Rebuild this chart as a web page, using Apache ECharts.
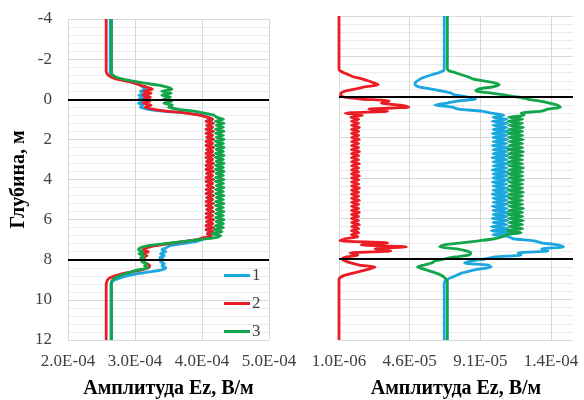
<!DOCTYPE html>
<html><head><meta charset="utf-8">
<script src="https://cdn.jsdelivr.net/npm/echarts@6/dist/echarts.min.js"></script>
<style>html,body{margin:0;padding:0;background:#fff}#c{width:584px;height:400px}</style>
</head><body><div id="c"></div>
<script>
// Depth samples, m (shared by all curves)
const depth = [-4,
 -1.4,-1.3,-1.2,-1.1,-1.0,-0.9,-0.8,-0.7,-0.6,-0.5,-0.4,-0.3,-0.2,-0.1,0,0.1,0.2,0.3,0.4,0.5,0.6,0.7,0.8,0.9,
 1.0,1.1,1.2,1.3,1.4,1.5,1.6,1.7,1.8,1.9,2.0,2.1,2.2,2.3,2.4,2.5,2.6,2.7,2.8,2.9,
 3.0,3.1,3.2,3.3,3.4,3.5,3.6,3.7,3.8,3.9,4.0,4.1,4.2,4.3,4.4,4.5,4.6,4.7,4.8,4.9,
 5.0,5.1,5.2,5.3,5.4,5.5,5.6,5.7,5.8,5.9,6.0,6.1,6.2,6.3,6.4,6.5,6.6,6.7,6.8,
 6.9,7.0,7.1,7.2,7.3,7.4,7.5,7.6,7.7,7.8,7.9,8.0,8.1,8.2,8.3,8.4,8.5,8.6,8.7,8.8,8.9,9.0,9.1,9.2,
 12];

// Left chart amplitudes, x1e-4 V/m
const leftAmp1 = [2.63,
 2.63,2.63,2.65,2.70,2.78,2.90,3.00,3.08,3.12,3.16,3.08,3.15,3.06,3.14,3.06,3.13,3.05,3.12,3.08,3.20,3.45,3.80,4.00,4.10,
 4.16,4.06,4.17,4.07,4.16,4.06,4.17,4.06,4.16,4.07,
 4.17,4.06,4.16,4.06,4.17,4.07,4.16,4.06,4.17,4.06,
 4.16,4.07,4.17,4.06,4.16,4.06,4.17,4.07,4.16,4.06,
 4.17,4.06,4.16,4.07,4.17,4.06,4.16,4.06,4.17,4.07,
 4.16,4.06,4.17,4.06,4.16,4.07,4.17,4.06,4.16,4.06,
 4.17,4.07,4.16,4.06,4.17,4.06,4.16,4.08,4.14,
 4.06,4.00,3.90,3.70,3.52,3.47,3.40,3.46,3.38,3.44,3.37,3.42,3.38,3.44,3.40,3.46,3.40,3.22,3.02,2.88,2.78,2.70,2.66,2.64,
 2.64];
const leftAmp2 = [2.57,
 2.57,2.58,2.60,2.65,2.73,2.88,3.00,3.08,3.18,3.26,3.13,3.24,3.12,3.23,3.13,3.22,3.12,3.24,3.15,3.28,3.50,3.80,3.98,4.08,
 4.16,4.06,4.17,4.07,4.16,4.06,4.17,4.06,4.16,4.07,
 4.17,4.06,4.16,4.06,4.17,4.07,4.16,4.06,4.17,4.06,
 4.16,4.07,4.17,4.06,4.16,4.06,4.17,4.07,4.16,4.06,
 4.17,4.06,4.16,4.07,4.17,4.06,4.16,4.06,4.17,4.07,
 4.16,4.06,4.17,4.06,4.16,4.07,4.17,4.06,4.16,4.06,
 4.17,4.07,4.16,4.06,4.17,4.06,4.16,4.08,4.14,
 4.02,3.92,3.72,3.50,3.30,3.18,3.12,3.20,3.12,3.18,3.10,3.15,3.12,3.18,3.22,3.20,3.10,2.95,2.80,2.70,2.63,2.59,2.58,2.57,
 2.57];
const leftAmp3 = [2.65,
 2.65,2.65,2.67,2.72,2.82,2.98,3.15,3.35,3.48,3.55,3.40,3.54,3.40,3.53,3.42,3.55,3.43,3.56,3.50,3.65,3.90,4.05,4.18,4.22,
 4.32,4.20,4.33,4.21,4.32,4.20,4.33,4.20,4.32,4.21,
 4.33,4.20,4.32,4.20,4.33,4.21,4.32,4.20,4.33,4.20,
 4.32,4.21,4.33,4.20,4.32,4.20,4.33,4.21,4.32,4.20,
 4.33,4.20,4.32,4.21,4.33,4.20,4.32,4.20,4.33,4.21,
 4.32,4.20,4.33,4.20,4.32,4.21,4.33,4.20,4.32,4.20,
 4.33,4.21,4.32,4.20,4.32,4.18,4.30,4.15,4.28,
 4.20,3.95,3.70,3.45,3.20,3.08,3.05,3.12,3.06,3.14,3.08,3.15,3.10,3.18,3.14,3.20,3.05,2.95,2.85,2.77,2.71,2.67,2.65,2.65,
 2.65];

// Right chart amplitudes, x1e-5 V/m
const rightAmp1 = [6.8,
 6.8,6.75,6.45,6.0,5.6,5.3,5.1,4.95,4.95,5.2,5.9,6.6,7.2,7.5,8.3,8.8,7.6,7.0,6.2,7.3,7.7,9.2,9.8,10.6,
 9.9,10.8,9.85,10.85,9.9,10.8,9.9,10.9,9.85,10.8,
 9.9,10.85,9.9,10.8,9.85,10.9,9.9,10.8,9.9,10.85,
 9.85,10.8,9.9,10.9,9.9,10.8,9.85,10.85,9.9,10.8,
 9.9,10.9,9.85,10.8,9.9,10.85,9.9,10.8,9.85,10.9,
 9.9,10.8,9.9,10.85,9.85,10.8,9.9,10.9,9.9,10.8,
 9.85,10.85,9.9,10.8,9.8,10.9,9.8,11.0,9.9,
 10.9,11.2,12.5,13.0,14.0,14.4,13.0,13.4,11.5,11.7,10.0,9.4,8.5,8.1,9.6,9.8,9.0,8.4,7.9,7.6,7.3,7.0,6.85,6.8,
 6.8];
const rightAmp2 = [0.1,
 0.1,0.15,0.4,0.7,1.0,1.55,1.95,2.3,2.6,1.7,1.2,0.55,0.25,0.2,0.4,1.5,3.3,2.8,4.0,4.55,2.0,3.2,0.5,1.6,
 0.85,1.35,0.9,1.35,0.9,1.4,0.9,1.35,0.9,1.35,
 0.9,1.4,0.9,1.35,0.9,1.35,0.9,1.4,0.9,1.35,
 0.9,1.35,0.9,1.4,0.9,1.35,0.9,1.35,0.9,1.4,
 0.9,1.35,0.9,1.35,0.9,1.4,0.9,1.35,0.9,1.35,
 0.9,1.4,0.9,1.35,0.9,1.35,0.9,1.4,0.9,1.35,
 0.9,1.35,0.9,1.4,0.9,1.35,0.9,1.35,0.9,
 1.3,0.5,0.15,3.2,1.5,4.4,2.4,3.4,0.8,1.3,0.6,0.3,0.5,0.9,1.4,2.4,2.0,1.5,1.0,0.5,0.2,0.1,0.1,0.1,
 0.1];
const rightAmp3 = [7.0,
 7.0,7.1,7.5,7.9,8.3,8.6,9.3,10.0,10.3,9.9,9.0,8.8,9.7,10.6,11.5,12.1,12.9,13.5,14.0,14.2,13.4,13.0,11.7,11.9,
 10.9,11.8,10.85,11.8,10.9,11.85,10.9,11.8,10.85,11.8,
 10.9,11.85,10.9,11.8,10.9,11.8,10.85,11.85,10.9,11.8,
 10.9,11.8,10.85,11.8,10.9,11.85,10.9,11.8,10.85,11.8,
 10.9,11.85,10.9,11.8,10.9,11.8,10.85,11.85,10.9,11.8,
 10.9,11.8,10.85,11.8,10.9,11.85,10.9,11.8,10.85,11.8,
 10.9,11.85,10.9,11.8,10.9,11.8,10.8,11.7,10.8,
 10.5,10.0,9.0,7.9,6.8,6.5,7.6,8.2,8.5,8.4,7.5,6.8,6.2,6.0,5.5,5.1,5.5,5.9,6.3,6.6,6.8,6.9,7.0,7.0,
 7.0];

const seriesNames = ['1', '2', '3'];
const boundaryDepths = [0, 8];
const xTitle = 'Амплитуда Ez, В/м';
const yTitle = 'Глубина, м';

const colors = ['#1BA7E0', '#EC1C24', '#13A54A'];
const FONT = '"Liberation Serif", "Times New Roman", serif';

function pts(vals) { return vals.map((v, i) => [v, depth[i]]); }
function sci(x) {
  let e = Math.floor(Math.log10(x) + 1e-9);
  let m = x / Math.pow(10, e);
  let s = m.toFixed(1);
  if (s === '10.0') { s = '1.0'; e += 1; }
  return s + 'E' + (e < 0 ? '-' : '+') + String(Math.abs(e)).padStart(2, '0');
}

const yAxisBase = {
  type: 'value', min: -4, max: 12, interval: 2, inverse: true,
  axisLine: { show: false }, axisTick: { show: false },
  splitLine: { show: true, lineStyle: { color: '#d9d9d9', width: 1 } },
  minorTick: { show: false, splitNumber: 5 },
  minorSplitLine: { show: true, lineStyle: { color: '#ececec', width: 1 } }
};

const lineSeries = (name, vals, idx, color) => ({
  name, type: 'line', data: pts(vals), xAxisIndex: idx, yAxisIndex: idx,
  showSymbol: false, symbol: 'none', animation: false, smooth: 0.25,
  lineStyle: { color, width: 2.8 }, itemStyle: { color }
});

const mark = {
  silent: true, symbol: ['none', 'none'], animation: false,
  label: { show: false },
  lineStyle: { color: '#000', width: 1.8, type: 'solid' },
  data: boundaryDepths.map(d => ({ yAxis: d }))
};

const s = [
  lineSeries(seriesNames[0], leftAmp1, 0, colors[0]),
  lineSeries(seriesNames[1], leftAmp2, 0, colors[1]),
  lineSeries(seriesNames[2], leftAmp3, 0, colors[2]),
  lineSeries(seriesNames[0], rightAmp1, 1, colors[0]),
  lineSeries(seriesNames[1], rightAmp2, 1, colors[1]),
  lineSeries(seriesNames[2], rightAmp3, 1, colors[2])
];
s[2].markLine = mark;
s[5].markLine = mark;

const tickFont = { fontFamily: FONT, fontSize: 17, color: '#404040' };
const titleFont = { fontFamily: FONT, fontSize: 20, fontWeight: 'bold', color: '#000' };

const chart = echarts.init(document.getElementById('c'), null, { renderer: 'canvas' });
chart.setOption({
  animation: false,
  backgroundColor: '#fff',
  textStyle: { fontFamily: FONT },
  grid: [
    { left: 68, top: 19, width: 201, height: 321, containLabel: false, outerBoundsMode: 'none' },
    { left: 339, top: 16, width: 234, height: 324, containLabel: false, outerBoundsMode: 'none' }
  ],
  legend: {
    data: seriesNames, orient: 'vertical', left: 219, top: 262,
    icon: 'rect', itemWidth: 26, itemHeight: 3, itemGap: 11,
    textStyle: { fontFamily: FONT, fontSize: 17, color: '#404040', lineHeight: 16, padding: [0, 0, 0, -3] }
  },
  xAxis: [
    {
      type: 'value', gridIndex: 0, min: 2, max: 5, interval: 1,
      axisLine: { show: false }, axisTick: { show: false },
      splitLine: { show: true, lineStyle: { color: '#d9d9d9' } },
      axisLabel: Object.assign({ margin: 13, formatter: v => v.toFixed(1) + 'E-04' }, tickFont),
      name: xTitle, nameLocation: 'middle', nameGap: 39, nameTextStyle: titleFont
    },
    {
      type: 'value', gridIndex: 1, min: 0.1, max: 15, interval: 4.5,
      axisLine: { show: false }, axisTick: { show: false },
      splitLine: { show: true, showMaxLine: false, lineStyle: { color: '#d9d9d9' } },
      axisLabel: Object.assign({ margin: 13, showMaxLabel: false, formatter: v => sci(v * 1e-5) }, tickFont),
      name: xTitle, nameLocation: 'middle', nameGap: 39, nameTextStyle: titleFont
    }
  ],
  yAxis: [
    Object.assign({}, yAxisBase, {
      gridIndex: 0,
      axisLabel: Object.assign({ margin: 16 }, tickFont),
      name: yTitle, nameLocation: 'middle', nameGap: 39, nameRotate: 90, nameTextStyle: titleFont
    }),
    Object.assign({}, yAxisBase, { gridIndex: 1, axisLabel: { show: false } })
  ],
  series: s
});
</script></body></html>
